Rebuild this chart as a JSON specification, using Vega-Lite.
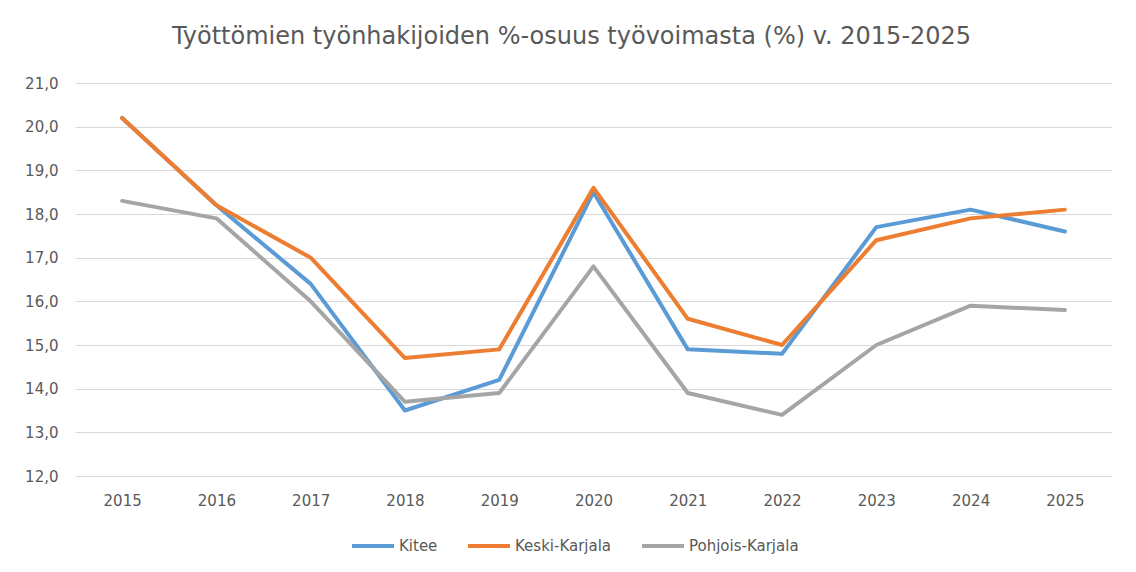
{
  "$schema": "https://vega.github.io/schema/vega-lite/v6.json",
  "width": 1037,
  "height": 393,
  "autosize": {"type": "none"},
  "padding": {"left": 75, "top": 83, "right": 24, "bottom": 96},
  "background": "white",
  "title": {
    "text": "Työttömien työnhakijoiden %-osuus työvoimasta (%) v. 2015-2025",
    "font": "DejaVu Sans",
    "fontSize": 24,
    "fontWeight": "normal",
    "color": "#595959",
    "anchor": "middle",
    "dx": -22,
    "offset": 27
  },
  "data": {
    "values": [
      {"vuosi": "2015", "alue": "Kitee", "arvo": 20.2},
      {"vuosi": "2016", "alue": "Kitee", "arvo": 18.2},
      {"vuosi": "2017", "alue": "Kitee", "arvo": 16.4},
      {"vuosi": "2018", "alue": "Kitee", "arvo": 13.5},
      {"vuosi": "2019", "alue": "Kitee", "arvo": 14.2},
      {"vuosi": "2020", "alue": "Kitee", "arvo": 18.5},
      {"vuosi": "2021", "alue": "Kitee", "arvo": 14.9},
      {"vuosi": "2022", "alue": "Kitee", "arvo": 14.8},
      {"vuosi": "2023", "alue": "Kitee", "arvo": 17.7},
      {"vuosi": "2024", "alue": "Kitee", "arvo": 18.1},
      {"vuosi": "2025", "alue": "Kitee", "arvo": 17.6},
      {"vuosi": "2015", "alue": "Keski-Karjala", "arvo": 20.2},
      {"vuosi": "2016", "alue": "Keski-Karjala", "arvo": 18.2},
      {"vuosi": "2017", "alue": "Keski-Karjala", "arvo": 17.0},
      {"vuosi": "2018", "alue": "Keski-Karjala", "arvo": 14.7},
      {"vuosi": "2019", "alue": "Keski-Karjala", "arvo": 14.9},
      {"vuosi": "2020", "alue": "Keski-Karjala", "arvo": 18.6},
      {"vuosi": "2021", "alue": "Keski-Karjala", "arvo": 15.6},
      {"vuosi": "2022", "alue": "Keski-Karjala", "arvo": 15.0},
      {"vuosi": "2023", "alue": "Keski-Karjala", "arvo": 17.4},
      {"vuosi": "2024", "alue": "Keski-Karjala", "arvo": 17.9},
      {"vuosi": "2025", "alue": "Keski-Karjala", "arvo": 18.1},
      {"vuosi": "2015", "alue": "Pohjois-Karjala", "arvo": 18.3},
      {"vuosi": "2016", "alue": "Pohjois-Karjala", "arvo": 17.9},
      {"vuosi": "2017", "alue": "Pohjois-Karjala", "arvo": 16.0},
      {"vuosi": "2018", "alue": "Pohjois-Karjala", "arvo": 13.7},
      {"vuosi": "2019", "alue": "Pohjois-Karjala", "arvo": 13.9},
      {"vuosi": "2020", "alue": "Pohjois-Karjala", "arvo": 16.8},
      {"vuosi": "2021", "alue": "Pohjois-Karjala", "arvo": 13.9},
      {"vuosi": "2022", "alue": "Pohjois-Karjala", "arvo": 13.4},
      {"vuosi": "2023", "alue": "Pohjois-Karjala", "arvo": 15.0},
      {"vuosi": "2024", "alue": "Pohjois-Karjala", "arvo": 15.9},
      {"vuosi": "2025", "alue": "Pohjois-Karjala", "arvo": 15.8}
    ]
  },
  "mark": {"type": "line", "strokeWidth": 4, "strokeCap": "round", "strokeJoin": "round"},
  "encoding": {
    "x": {
      "field": "vuosi",
      "type": "ordinal",
      "scale": {"type": "point", "padding": 0.5},
      "axis": {
        "title": null,
        "labelAngle": 0,
        "ticks": false,
        "domain": false,
        "grid": false,
        "labelFont": "DejaVu Sans",
        "labelFontSize": 15,
        "labelColor": "#595959",
        "labelPadding": 17
      }
    },
    "y": {
      "field": "arvo",
      "type": "quantitative",
      "scale": {"domain": [12, 21], "nice": false, "zero": false},
      "axis": {
        "title": null,
        "values": [12, 13, 14, 15, 16, 17, 18, 19, 20, 21],
        "labelExpr": "replace(format(datum.value, '.1f'), '.', ',')",
        "ticks": false,
        "domain": false,
        "grid": true,
        "gridColor": "#D9D9D9",
        "gridWidth": 1.2,
        "labelFont": "DejaVu Sans",
        "labelFontSize": 15,
        "labelColor": "#595959",
        "labelPadding": 17
      }
    },
    "color": {
      "field": "alue",
      "type": "nominal",
      "scale": {
        "domain": ["Kitee", "Keski-Karjala", "Pohjois-Karjala"],
        "range": ["#5B9BD5", "#ED7D31", "#A5A5A5"]
      },
      "legend": {
        "title": null,
        "orient": "none",
        "legendX": 275,
        "legendY": 440,
        "direction": "horizontal",
        "symbolType": "stroke",
        "symbolSize": 1764,
        "symbolStrokeWidth": 4,
        "labelFont": "DejaVu Sans",
        "labelFontSize": 15,
        "labelColor": "#595959",
        "labelOffset": 3,
        "columnPadding": 22
      }
    }
  },
  "config": {
    "view": {"stroke": null}
  }
}
